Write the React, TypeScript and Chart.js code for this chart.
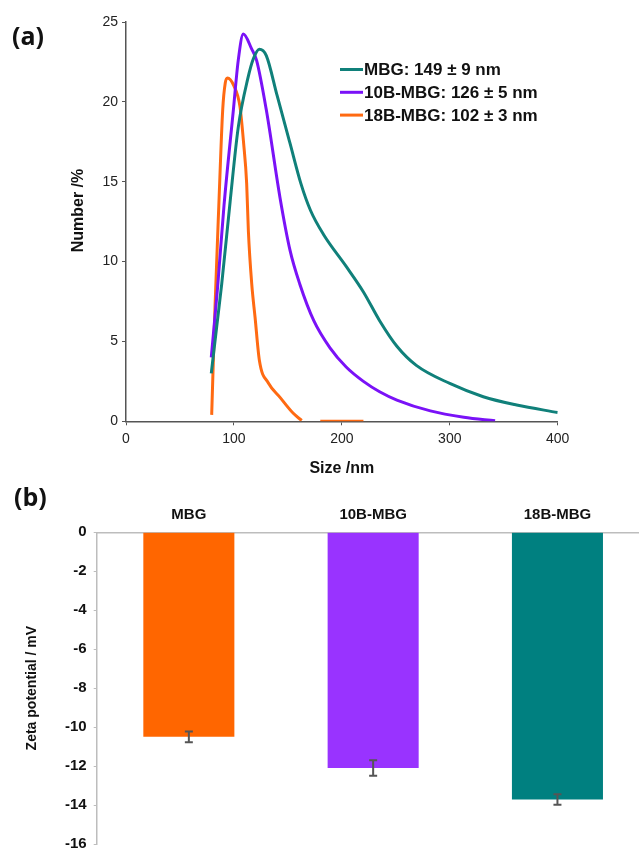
import React, { useEffect, useRef } from "react";
import { Chart, registerables } from "chart.js";

Chart.register(...registerables);

const FONT = "'Liberation Sans', Arial, Helvetica, sans-serif";

// ---- (a) particle size distribution ----
const seriesLabels = ["MBG: 149 ± 9 nm", "10B-MBG: 126 ± 5 nm", "18B-MBG: 102 ± 3 nm"];
const seriesColors = ["#10807a", "#7a12f7", "#ff6a12"];

const mbgSize = [79, 84, 88.7, 96.4, 104, 113, 118, 123.5, 130, 140, 152, 162, 171, 183, 204, 220, 235, 251, 269, 300, 331, 362, 400];
const mbgNumber = [3.0, 5.9, 8.6, 13.7, 18.4, 21.5, 22.7, 23.3, 22.9, 20.4, 17.4, 14.9, 13.2, 11.7, 9.7, 8.1, 6.3, 4.7, 3.5, 2.37, 1.54, 1.02, 0.55];

const b10Size = [79, 85, 90.8, 99.5, 104, 108.7, 116.5, 121, 130, 142.7, 152, 161, 174, 189, 204, 220, 235, 251, 282, 313, 342];
const b10Number = [4.0, 8.5, 13.5, 19.5, 22.6, 24.25, 23.3, 22.6, 19.5, 14.0, 10.7, 8.6, 6.3, 4.6, 3.4, 2.5, 1.85, 1.33, 0.65, 0.25, 0.03];

const b18Size = [79.4, 82.5, 86, 89.6, 92, 94, 100, 105.6, 109, 111.8, 113.4, 116.5, 119.6, 123.6, 131.9, 142.7, 155, 162.8, 170, 180, 220];
const b18Number = [0.4, 7.2, 13.5, 19.5, 21.2, 21.5, 21.0, 19.7, 17.4, 14.9, 11.9, 8.6, 6.5, 3.8, 2.4, 1.5, 0.5, 0.05, null, 0, 0];

const sizeTicks = [0, 100, 200, 300, 400];
const numberTicks = [0, 5, 10, 15, 20, 25];

// ---- (b) zeta potential ----
const zetaCategories = ["MBG", "10B-MBG", "18B-MBG"];
const zetaValues = [-10.5, -12.1, -13.72];
const zetaErrors = [0.28, 0.4, 0.27];
const zetaColors = ["#ff6600", "#9933ff", "#008080"];
const zetaTicks = [-16, -14, -12, -10, -8, -6, -4, -2, 0];

function toPoints(xs: number[], ys: (number | null)[]) {
  return xs.map((x, i) => ({ x, y: ys[i] }));
}

const legendPlugin = {
  id: "insideLegend",
  afterDraw(chart: any) {
    const { ctx } = chart;
    ctx.save();
    chart.data.datasets.forEach((ds: any, i: number) => {
      const y = 69.5 + i * 22.8;
      ctx.strokeStyle = ds.borderColor;
      ctx.lineWidth = 3;
      ctx.beginPath();
      ctx.moveTo(340, y);
      ctx.lineTo(363, y);
      ctx.stroke();
      ctx.fillStyle = "#111";
      ctx.font = `bold 17px ${FONT}`;
      ctx.textBaseline = "middle";
      ctx.textAlign = "left";
      ctx.fillText(ds.label, 364, y + 1);
    });
    ctx.restore();
  },
};

const errorBarPlugin = {
  id: "errorBars",
  afterDatasetsDraw(chart: any) {
    const { ctx } = chart;
    const meta = chart.getDatasetMeta(0);
    const yScale = chart.scales.y;
    ctx.save();
    ctx.strokeStyle = "#555";
    ctx.lineWidth = 2;
    meta.data.forEach((bar: any, i: number) => {
      const v = zetaValues[i];
      const e = zetaErrors[i];
      const x = bar.x;
      const y1 = yScale.getPixelForValue(v + e);
      const y2 = yScale.getPixelForValue(v - e);
      ctx.beginPath();
      ctx.moveTo(x, y1);
      ctx.lineTo(x, y2);
      ctx.moveTo(x - 4, y1);
      ctx.lineTo(x + 4, y1);
      ctx.moveTo(x - 4, y2);
      ctx.lineTo(x + 4, y2);
      ctx.stroke();
    });
    ctx.restore();
  },
};

export default function App() {
  const topRef = useRef<HTMLCanvasElement | null>(null);
  const botRef = useRef<HTMLCanvasElement | null>(null);

  useEffect(() => {
    Chart.defaults.font.family = FONT;
    const sizes = [mbgSize, b10Size, b18Size];
    const nums = [mbgNumber, b10Number, b18Number];

    const top = new Chart(topRef.current as HTMLCanvasElement, {
      type: "line",
      data: {
        datasets: seriesLabels.map((label, i) => ({
          label,
          data: toPoints(sizes[i], nums[i] as (number | null)[]),
          borderColor: seriesColors[i],
          backgroundColor: seriesColors[i],
          borderWidth: 3,
          pointRadius: 0,
          cubicInterpolationMode: "monotone" as const,
          spanGaps: false,
        })),
      },
      options: {
        responsive: false,
        animation: false,
        layout: { padding: { top: 22, left: 0, right: 81.3, bottom: 2 } },
        plugins: { legend: { display: false }, tooltip: { enabled: false } },
        scales: {
          x: {
            type: "linear",
            min: 0,
            max: 400,
            afterBuildTicks: (s: any) => {
              s.ticks = sizeTicks.map((v) => ({ value: v }));
            },
            afterFit: (s: any) => {
              s.height = 56.7;
            },
            grid: { display: true, drawOnChartArea: false, drawTicks: true, tickLength: 4, color: "#555" },
            border: { display: true, color: "#555", width: 1.5 },
            ticks: { color: "#222", font: { size: 14 }, padding: 5, maxRotation: 0 },
            title: {
              display: true,
              text: "Size /nm",
              color: "#111",
              font: { size: 16, weight: "bold" },
              padding: { top: 0, bottom: 0 },
            },
          },
          y: {
            type: "linear",
            min: 0,
            max: 25,
            afterBuildTicks: (s: any) => {
              s.ticks = numberTicks.map((v) => ({ value: v }));
            },
            afterFit: (s: any) => {
              s.width = 126;
            },
            grid: { display: true, drawOnChartArea: false, drawTicks: true, tickLength: 4, color: "#555" },
            border: { display: true, color: "#555", width: 1.5 },
            ticks: { color: "#222", font: { size: 14 }, padding: 4 },
            title: {
              display: true,
              text: "     Number /%",
              color: "#111",
              font: { size: 16, weight: "bold" },
              padding: { top: 69.4, bottom: 0 },
            },
          },
        },
      },
      plugins: [legendPlugin],
    } as any);

    const bot = new Chart(botRef.current as HTMLCanvasElement, {
      type: "bar",
      data: {
        labels: zetaCategories,
        datasets: [
          {
            label: "Zeta potential",
            data: zetaValues,
            backgroundColor: zetaColors,
            borderWidth: 0,
            categoryPercentage: 1,
            barPercentage: 0.494,
          },
        ],
      },
      options: {
        responsive: false,
        animation: false,
        layout: { padding: { top: 0, left: 0, right: 30.4, bottom: 11.7 } },
        plugins: { legend: { display: false }, tooltip: { enabled: false } },
        scales: {
          x: {
            type: "category",
            position: "top",
            offset: true,
            afterFit: (s: any) => {
              s.height = 52.3;
            },
            grid: { display: false, drawTicks: false },
            border: { display: true, color: "#bdbdbd", width: 1.5 },
            ticks: { color: "#111", font: { size: 15, weight: "bold" }, padding: 8.5, maxRotation: 0 },
          },
          y: {
            type: "linear",
            min: -16,
            max: 0,
            afterBuildTicks: (s: any) => {
              s.ticks = zetaTicks.map((v) => ({ value: v }));
            },
            afterFit: (s: any) => {
              s.width = 96.7;
            },
            grid: { display: true, drawOnChartArea: false, drawTicks: true, tickLength: 3, color: "#bdbdbd" },
            border: { display: true, color: "#bdbdbd", width: 1.5 },
            ticks: { color: "#111", font: { size: 15, weight: "bold" }, padding: 7 },
            title: {
              display: true,
              text: "Zeta potential / mV",
              color: "#111",
              font: { size: 14, weight: "bold" },
              padding: { top: 23.3, bottom: 0 },
            },
          },
        },
      },
      plugins: [errorBarPlugin],
    } as any);

    return () => {
      top.destroy();
      bot.destroy();
    };
  }, []);

  const panelLabel: React.CSSProperties = {
    position: "absolute",
    fontFamily: "'Open Sans', 'Noto Sans', sans-serif",
    fontWeight: 700,
    fontSize: 25,
    lineHeight: "30px",
    color: "#111",
    margin: 0,
  };

  return (
    <div
      style={{
        position: "absolute",
        left: 0,
        top: 0,
        width: 639,
        height: 853,
        overflow: "hidden",
        background: "#fff",
      }}
    >
      <canvas ref={topRef} width={639} height={480} style={{ position: "absolute", left: 0, top: 0 }} />
      <canvas ref={botRef} width={680} height={380} style={{ position: "absolute", left: 0, top: 480 }} />
      <div style={{ ...panelLabel, left: 12, top: 20 }}>(a)</div>
      <div style={{ ...panelLabel, left: 14, top: 481 }}>(b)</div>
    </div>
  );
}
